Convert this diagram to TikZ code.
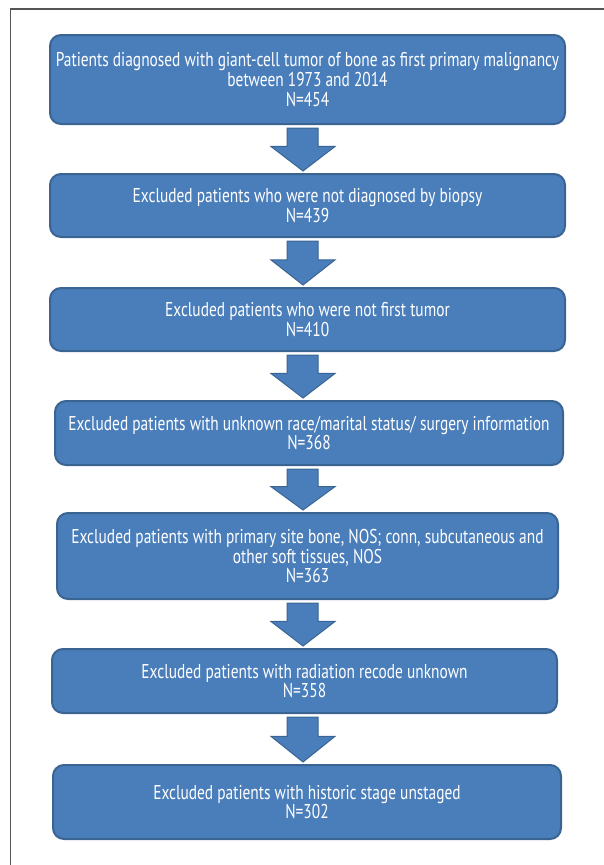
\documentclass[tikz,border=0pt]{standalone}
\usepackage{fontspec}
\setmainfont{PT Sans}[FakeStretch=0.77]
\usetikzlibrary{calc}
\definecolor{boxfill}{HTML}{4A7EBB}
\definecolor{boxline}{HTML}{3A6492}
\definecolor{frameline}{HTML}{555555}
\tikzset{
  flowbox/.style={draw=boxline, line width=2pt, fill=boxfill, rounded corners=11pt,
    text=white, align=center, inner sep=0pt, font=\fontsize{20}{19.8}\selectfont},
  blockarr/.style={draw=boxline, line width=1pt, fill=boxfill, line join=miter}
}
\newcommand{\mkbox}[6]{% name, left, top, right, bottom, text
  \node[flowbox, minimum width={#4-#2}, minimum height={#5-#3}] (#1) at ({(#2+#4)/2},{(#3+#5)/2}) {#6};}
\newcommand{\mkarrow}[2]{%
  \path[blockarr] let \p1=(#1.south), \p2=(#2.north), \n1={\y1-\y2} in
    (287pt,\y1-3pt) -- (318pt,\y1-3pt) -- (318pt,{\y1-3pt-0.43*(\n1-5pt)}) -- (335pt,{\y1-3pt-0.43*(\n1-5pt)})
    -- (303pt,\y2+2pt) -- (271pt,{\y1-3pt-0.43*(\n1-5pt)}) -- (287pt,{\y1-3pt-0.43*(\n1-5pt)}) -- cycle;}
\begin{document}
\begin{tikzpicture}[x=1pt,y=-1pt]
\useasboundingbox (0,0) rectangle (604,865);
\draw[frameline, line width=1.2pt] (10.5,865) -- (10.5,9) -- (604,9);
\mkbox{b1}{50}{35}{565}{124}{Patients diagnosed with giant-cell tumor of bone as first primary malignancy\\between 1973 and 2014\\N=454}
\mkbox{b2}{50}{174}{565}{237}{Excluded patients who were not diagnosed by biopsy\\N=439}
\mkbox{b3}{50}{288}{565}{351}{Excluded patients who were not first tumor\\N=410}
\mkbox{b4}{55}{401}{563}{465}{Excluded patients with unknown race/marital status/ surgery information\\N=368}
\mkbox{b5}{57}{513}{558}{599}{Excluded patients with primary site bone, NOS; conn, subcutaneous and\\other soft tissues, NOS\\N=363}
\mkbox{b6}{52}{649}{557}{713}{Excluded patients with radiation recode unknown\\N=358}
\mkbox{b7}{53}{765}{561}{839}{Excluded patients with historic stage unstaged\\N=302}
\mkarrow{b1}{b2}
\mkarrow{b2}{b3}
\mkarrow{b3}{b4}
\mkarrow{b4}{b5}
\mkarrow{b5}{b6}
\mkarrow{b6}{b7}
\end{tikzpicture}
\end{document}
